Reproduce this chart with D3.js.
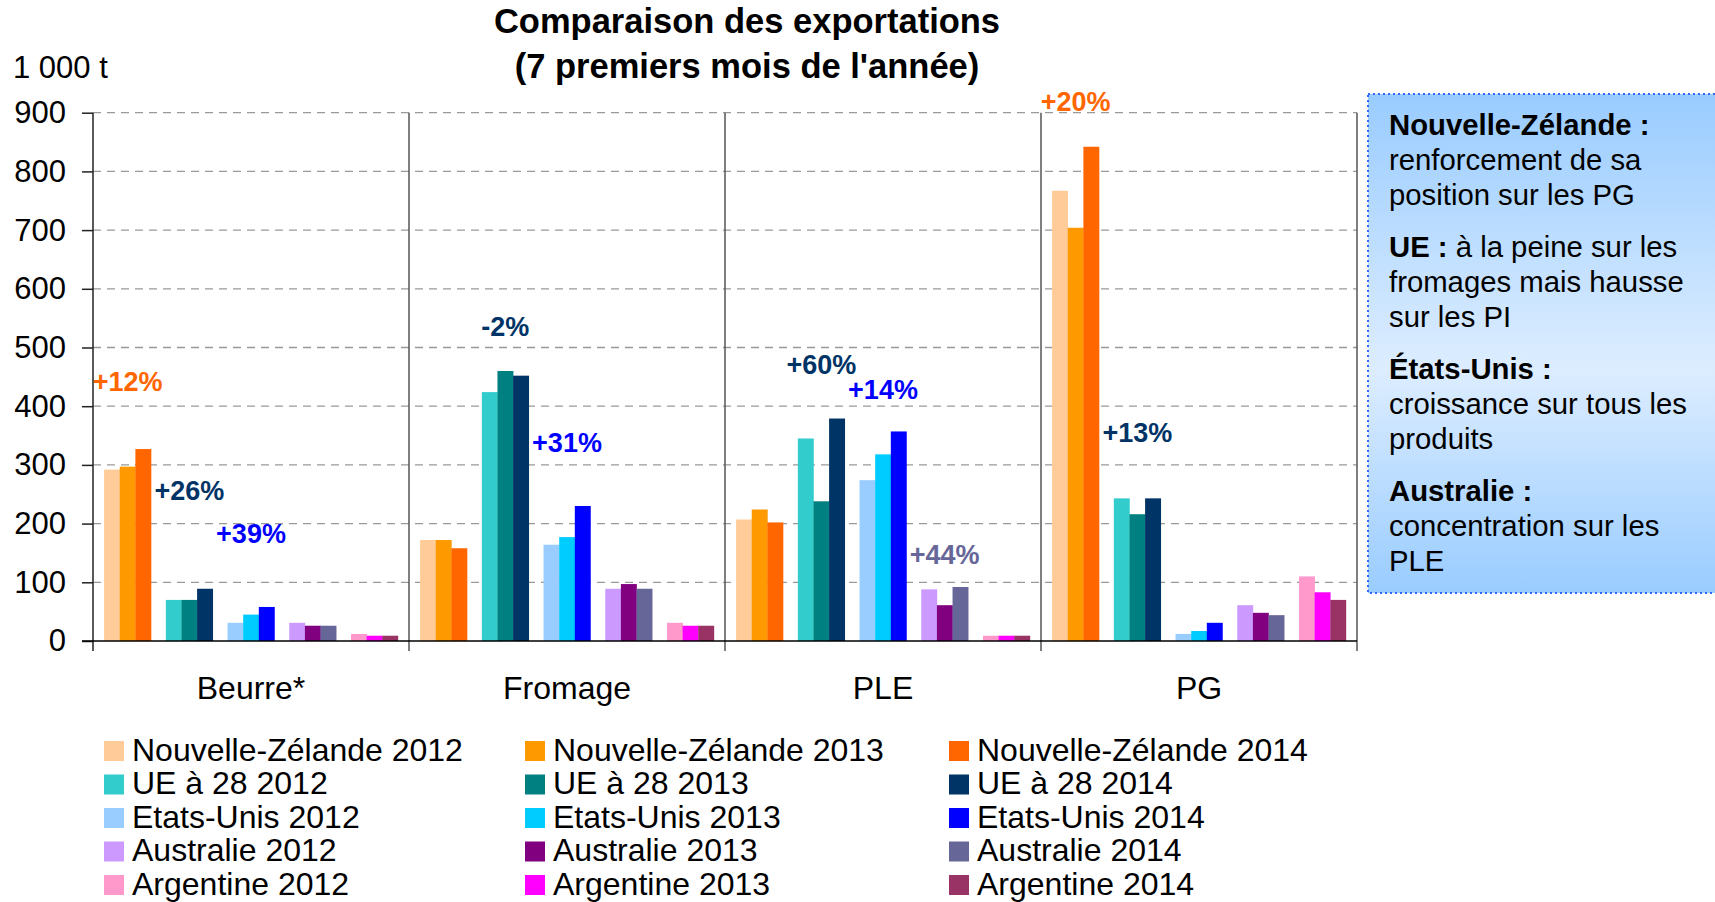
<!DOCTYPE html>
<html>
<head>
<meta charset="utf-8">
<script src="https://cdn.jsdelivr.net/npm/d3@7"></script>
<style>
  body { margin: 0; background: #fff; }
  svg text { font-family: "Liberation Sans", Arial, sans-serif; }
</style>
</head>
<body>
<svg id="chart" width="1715" height="902"></svg>
<script>
// ------------------------------
// DONNEES
// ------------------------------
const categories = ["Beurre*", "Fromage", "PLE", "PG"];
const countries = ["Nouvelle-Zélande", "UE à 28", "Etats-Unis", "Australie", "Argentine"];
const years = ["2012", "2013", "2014"];

// valeurs en 1 000 t, une ligne par pays, [2012, 2013, 2014] par catégorie
const beurre  = [[292, 297, 327], [70, 70, 89], [31, 45, 58], [31, 26, 26], [12, 9, 9]];
const fromage = [[172, 172, 158], [424, 460, 452], [164, 177, 230], [89, 97, 89], [31, 26, 26]];
const ple     = [[207, 224, 202], [345, 238, 379], [274, 318, 357], [88, 61, 92], [9, 9, 9]];
const pg      = [[767, 704, 842], [243, 216, 243], [12, 17, 31], [61, 48, 44], [110, 83, 70]];
const valeurs = [beurre, fromage, ple, pg];

const yTicks = [0, 100, 200, 300, 400, 500, 600, 700, 800, 900];

const colors = [
  ["#FFCC99", "#FF9900", "#FF6600"],
  ["#33CCCC", "#008080", "#003366"],
  ["#99CCFF", "#00CCFF", "#0000FF"],
  ["#CC99FF", "#800080", "#666699"],
  ["#FF99CC", "#FF00FF", "#993366"]
];

// annotations : texte, catégorie, pays, hauteur (1 000 t), couleur
const notes = [
  { t: "+12%", cat: "Beurre*", pays: "Nouvelle-Zélande", v: 443, c: "#FF6600" },
  { t: "+26%", cat: "Beurre*", pays: "UE à 28", v: 257, c: "#003366" },
  { t: "+39%", cat: "Beurre*", pays: "Etats-Unis", v: 184, c: "#0000FF" },
  { t: "-2%",  cat: "Fromage", pays: "UE à 28", v: 537, c: "#003366" },
  { t: "+31%", cat: "Fromage", pays: "Etats-Unis", v: 339, c: "#0000FF" },
  { t: "+60%", cat: "PLE", pays: "UE à 28", v: 472, c: "#003366" },
  { t: "+14%", cat: "PLE", pays: "Etats-Unis", v: 429, c: "#0000FF" },
  { t: "+44%", cat: "PLE", pays: "Australie", v: 147, c: "#666699" },
  { t: "+20%", cat: "PG", pays: "Nouvelle-Zélande", v: 920, c: "#FF6600" },
  { t: "+13%", cat: "PG", pays: "UE à 28", v: 356, c: "#003366" }
];

const encadre = [
  { titre: "Nouvelle-Zélande :", lignes: ["renforcement de sa", "position sur les PG"] },
  { titre: "UE :", suite: " à la peine sur les", lignes: ["fromages mais hausse", "sur les PI"] },
  { titre: "États-Unis :", lignes: ["croissance sur tous les", "produits"] },
  { titre: "Australie :", lignes: ["concentration sur les", "PLE"] }
];

// ------------------------------
// ECHELLES
// ------------------------------
const svg = d3.select("#chart");
const plotLeft = 93, plotRight = 1357, plotTop = 112.7, plotBottom = 641;

const x0 = d3.scaleBand().domain(categories).range([plotLeft, plotRight]).padding(0);
const x1 = d3.scaleBand().domain(countries).range([0, x0.bandwidth()])
  .paddingInner(0.24).paddingOuter(0.18);
const x2 = d3.scaleBand().domain(years).range([0, x1.bandwidth()]).padding(0);
const y = d3.scaleLinear().domain([0, 900]).range([plotBottom, plotTop]);

// ------------------------------
// TITRES
// ------------------------------
svg.append("text").attr("x", 747).attr("y", 33).attr("text-anchor", "middle")
  .attr("font-size", 34.5).attr("font-weight", "bold").text("Comparaison des exportations");
svg.append("text").attr("x", 747).attr("y", 78).attr("text-anchor", "middle")
  .attr("font-size", 34.5).attr("font-weight", "bold").text("(7 premiers mois de l'année)");
svg.append("text").attr("x", 13).attr("y", 78).attr("font-size", 31).text("1 000 t");

// ------------------------------
// GRILLE ET AXES
// ------------------------------
svg.append("g").selectAll("line")
  .data(yTicks.filter(d => d > 0)).enter()
  .append("line")
  .attr("x1", plotLeft).attr("x2", plotRight)
  .attr("y1", d => y(d)).attr("y2", d => y(d))
  .attr("stroke", "#999").attr("stroke-dasharray", "8,6").attr("stroke-width", 1.3);

const yAxis = svg.append("g").attr("transform", `translate(${plotLeft},0)`)
  .call(d3.axisLeft(y).tickValues(yTicks).tickSize(11).tickPadding(16).tickFormat(d3.format("d")));
yAxis.select(".domain").remove();
yAxis.selectAll("line").attr("stroke", "#222").attr("stroke-width", 1.5);
yAxis.selectAll("text").attr("font-size", 31).attr("fill", "#000")
  .attr("font-family", "Liberation Sans, Arial, sans-serif");

// ------------------------------
// BARRES
// ------------------------------
const rows = [];
categories.forEach((cat, ci) => {
  countries.forEach((p, pi) => {
    years.forEach((yr, yi) => {
      rows.push({ cat, p, yr, v: valeurs[ci][pi][yi], color: colors[pi][yi] });
    });
  });
});

svg.append("g").selectAll("rect")
  .data(rows).enter()
  .append("rect")
  .attr("x", d => x0(d.cat) + x1(d.p) + x2(d.yr))
  .attr("y", d => y(d.v))
  .attr("width", x2.bandwidth() + 0.3)
  .attr("height", d => y(0) - y(d.v))
  .attr("fill", d => d.color);

// séparateurs de catégories
const seps = categories.map(c => x0(c)).concat([plotRight]);
svg.append("g").selectAll("line")
  .data(seps).enter()
  .append("line")
  .attr("x1", d => d).attr("x2", d => d)
  .attr("y1", plotTop).attr("y2", plotBottom + 10)
  .attr("stroke", (d, i) => i === 0 ? "#222" : "#555").attr("stroke-width", 1.5);

svg.append("line").attr("x1", plotLeft - 11).attr("x2", plotRight)
  .attr("y1", y(0)).attr("y2", y(0)).attr("stroke", "#000").attr("stroke-width", 1.5);

// étiquettes catégories
svg.append("g").selectAll("text")
  .data(categories).enter()
  .append("text")
  .attr("x", d => x0(d) + x0.bandwidth() / 2)
  .attr("y", 699)
  .attr("text-anchor", "middle")
  .attr("font-size", 32)
  .text(d => d);

// annotations
svg.append("g").selectAll("text")
  .data(notes).enter()
  .append("text")
  .attr("x", d => x0(d.cat) + x1(d.pays) + x1.bandwidth() / 2)
  .attr("y", d => y(d.v))
  .attr("dy", "0.36em")
  .attr("text-anchor", "middle")
  .attr("font-size", 27)
  .attr("font-weight", "bold")
  .attr("fill", d => d.c)
  .text(d => d.t);

// ------------------------------
// LEGENDE
// ------------------------------
const legCols = [104, 525, 949];
const legend = svg.append("g");
countries.forEach((p, pi) => {
  years.forEach((yr, yi) => {
    const g = legend.append("g")
      .attr("transform", `translate(${legCols[yi]},${741 + pi * 33.5})`);
    g.append("rect").attr("width", 20).attr("height", 20).attr("fill", colors[pi][yi]);
    g.append("text").attr("x", 28).attr("y", 19.5).attr("font-size", 32).text(`${p} ${yr}`);
  });
});

// ------------------------------
// ENCADRE
// ------------------------------
const grad = svg.append("defs").append("linearGradient")
  .attr("id", "fond").attr("x1", 0).attr("x2", 0).attr("y1", 0).attr("y2", 1);
grad.append("stop").attr("offset", "0%").attr("stop-color", "#99CCFF");
grad.append("stop").attr("offset", "55%").attr("stop-color", "#DDEDFF");
grad.append("stop").attr("offset", "100%").attr("stop-color", "#99CCFF");

svg.append("rect").attr("x", 1368).attr("y", 94).attr("width", 360).attr("height", 499)
  .attr("fill", "url(#fond)").attr("stroke", "#3366FF").attr("stroke-width", 2)
  .attr("stroke-dasharray", "2,3");

let ty = 135;
encadre.forEach(b => {
  const t = svg.append("text").attr("x", 1389).attr("y", ty).attr("font-size", 29.3);
  t.append("tspan").attr("font-weight", "bold").text(b.titre);
  if (b.suite) t.append("tspan").text(b.suite);
  b.lignes.forEach(l => {
    ty += 34.8;
    svg.append("text").attr("x", 1389).attr("y", ty).attr("font-size", 29.3).text(l);
  });
  ty += 52.5;
});
</script>
</body>
</html>
